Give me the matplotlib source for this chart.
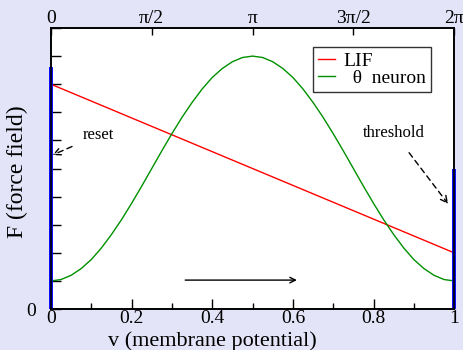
import matplotlib
matplotlib.use("Agg")
import matplotlib.pyplot as plt
import numpy as np

plt.rcParams['font.family'] = ['Liberation Serif', 'DejaVu Serif']
plt.rcParams['mathtext.fontset'] = 'stix'

# Data
v_theta = [i * 0.025 for i in range(41)]
f_theta = [0.100, 0.105, 0.120, 0.144, 0.176, 0.217, 0.265, 0.318, 0.376, 0.437,
           0.500, 0.563, 0.624, 0.682, 0.735, 0.783, 0.824, 0.856, 0.880, 0.895,
           0.900, 0.895, 0.880, 0.856, 0.824, 0.783, 0.735, 0.682, 0.624, 0.563,
           0.500, 0.437, 0.376, 0.318, 0.265, 0.217, 0.176, 0.144, 0.120, 0.105,
           0.100]
v_lif = [0.0, 1.0]
f_lif = [0.80, 0.20]
reset_bar = [0.0, 0.86]
threshold_bar = [0.0, 0.50]
bottom_ticks = [0, 0.2, 0.4, 0.6, 0.8, 1]
bottom_labels = ['0', '0.2', '0.4', '0.6', '0.8', '1']
top_ticks = [0, 0.25, 0.5, 0.75, 1]
top_labels = ['0', 'π/2', 'π', '3π/2', '2π']

bg = '#e4e4f8'
fig = plt.figure(figsize=(4.63, 3.5), dpi=100, facecolor=bg)
ax = fig.add_axes([0.110, 0.117, 0.871, 0.803])
ax.set_facecolor('white')

ax.plot(v_lif, f_lif, color='#ff0000', lw=1.0, label='LIF')
ax.plot(v_theta, f_theta, color='#009000', lw=1.0, label='  θ  neuron')
ax.plot([0, 0], reset_bar, color='#0000ff', lw=2.8, clip_on=False, solid_capstyle='butt', zorder=5)
ax.plot([1, 1], threshold_bar, color='#0000ff', lw=2.8, clip_on=False, solid_capstyle='butt', zorder=5)

ax.set_xlim(0, 1)
ax.set_ylim(0, 1)

ax.set_xticks(bottom_ticks)
ax.set_xticklabels(bottom_labels)
ax.set_xticks(np.arange(0.1, 1.0, 0.2), minor=True)
ax.set_yticks(np.arange(0, 1.01, 0.1))
ax.set_yticklabels(['0'] + [''] * 10)
ax.tick_params(axis='x', which='major', direction='in', length=7, width=1, labelsize=14, pad=1)
ax.tick_params(axis='x', which='minor', direction='in', length=4, width=1)
ax.tick_params(axis='y', direction='in', length=7, width=1, labelsize=14, pad=11, right=False)

axt = ax.twiny()
axt.set_xlim(0, 1)
axt.set_xticks(top_ticks)
axt.set_xticklabels(top_labels)
axt.tick_params(axis='x', direction='in', length=5, width=1, labelsize=14, pad=1)

for a in (ax, axt):
    for s in a.spines.values():
        s.set_linewidth(1.2)

ax.set_xlabel('v (membrane potential)', fontsize=16)
ax.xaxis.set_label_coords(0.40, -0.078)
ax.set_ylabel('F (force field)', fontsize=17)
ax.yaxis.set_label_coords(-0.057, 0.49)

leg = ax.legend(loc='upper right', bbox_to_anchor=(0.943, 0.932), fontsize=14,
                frameon=True, fancybox=False, edgecolor='black', handlelength=0.85,
                borderpad=0.25, labelspacing=0.0, handletextpad=0.45, borderaxespad=0)
leg.get_frame().set_linewidth(1.0)

ax.annotate('reset', xy=(0.004, 0.548), xytext=(0.117, 0.619), fontsize=12,
            ha='center', va='center',
            arrowprops=dict(arrowstyle='->', linestyle=(0, (4, 3)), color='black', lw=1,
                            shrinkA=6, shrinkB=0))
ax.annotate('threshold', xy=(0.985, 0.374), xytext=(0.851, 0.626), fontsize=12,
            ha='center', va='center',
            arrowprops=dict(arrowstyle='->', linestyle=(0, (4, 3)), color='black', lw=1,
                            shrinkA=8, shrinkB=0))
ax.annotate('', xy=(0.61, 0.103), xytext=(0.333, 0.103),
            arrowprops=dict(arrowstyle='->', color='black', lw=1, shrinkA=0, shrinkB=0))

fig.savefig('out.png', dpi=100, facecolor=bg)
